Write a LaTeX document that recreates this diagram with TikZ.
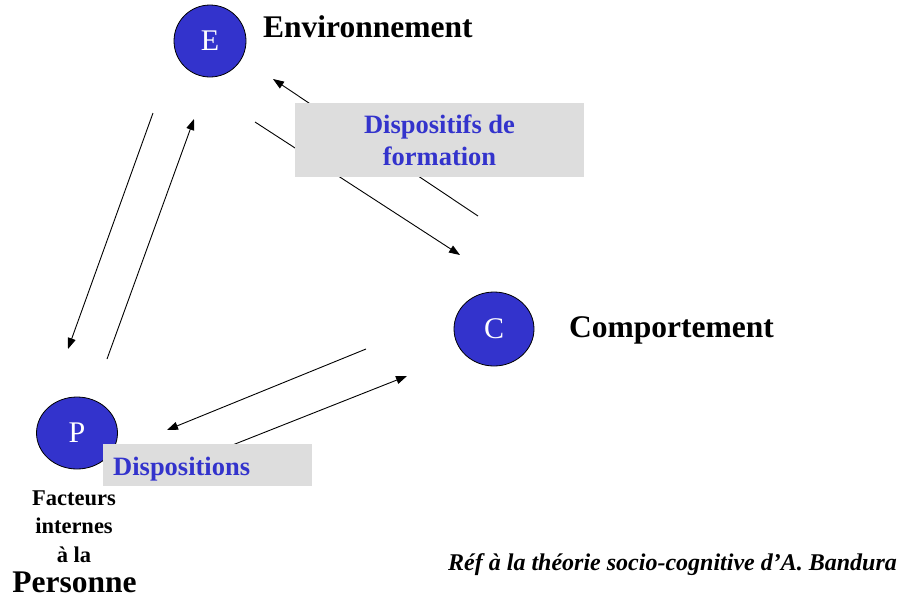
\documentclass[tikz,border=0pt]{standalone}
\usepackage{fontspec}
\setmainfont{Liberation Serif}
\usetikzlibrary{arrows.meta,shapes.geometric}
\definecolor{cblue}{RGB}{51,51,204}
\definecolor{boxgray}{RGB}{221,221,221}
\begin{document}
\begin{tikzpicture}[x=1pt,y=-1pt,
  agent/.style={ellipse, draw=black, line width=0.8pt, fill=cblue, text=white,
    font=\fontsize{30}{30}\selectfont, inner sep=0pt},
  biglabel/.style={anchor=base west, inner sep=0pt, font=\fontsize{31.5}{31.5}\selectfont\bfseries},
  smalllabel/.style={anchor=base, inner sep=0pt, font=\fontsize{22.5}{22.5}\selectfont\bfseries},
  graybox/.style={rectangle, fill=boxgray, draw=none, inner sep=0pt},
  boxtext/.style={text=cblue, inner sep=0pt, font=\fontsize{26.5}{32}\selectfont\bfseries},
  link/.style={line width=0.9pt, -{Triangle[length=11pt,width=8pt]}}
]
\useasboundingbox (0,0) rectangle (901,600);

% circles
\node[agent, minimum width=72pt, minimum height=72pt] (E) at (210,41) {E};
\node[agent, minimum width=80pt, minimum height=74pt] (C) at (494,329) {C};
\node[agent, minimum width=81pt, minimum height=72pt] (P) at (77,433) {P};

% labels
\node[biglabel] (envl) at (263,37) {Environnement};
\node[biglabel] (compl) at (569,337) {Comportement};
\node[smalllabel] (f1) at (74,505) {Facteurs};
\node[smalllabel] (f2) at (74,533) {internes};
\node[smalllabel] (f3) at (74,562) {à la};
\node[anchor=base, inner sep=0pt, font=\fontsize{31.5}{31.5}\selectfont\bfseries] (pers) at (74.5,592) {Personne};
\node[anchor=base west, inner sep=0pt, font=\fontsize{24}{24}\selectfont\bfseries\itshape] (ref) at (448,570)
  {Réf à la théorie socio-cognitive d’A. Bandura};

% arrow end points
\coordinate (a1s) at (153,113); \coordinate (a1e) at (68,349);
\coordinate (a2s) at (107,359); \coordinate (a2e) at (194,119);
\coordinate (a3s) at (478,216); \coordinate (a3e) at (273,79);
\coordinate (a4s) at (255,122); \coordinate (a4e) at (460,255);
\coordinate (a5s) at (366,349); \coordinate (a5e) at (167,430);
\coordinate (a6s) at (230,446); \coordinate (a6e) at (407,376);

\draw[link] (a1s) -- (a1e);
\draw[link] (a2s) -- (a2e);
\draw[link] (a3s) -- (a3e);
\draw[link] (a4s) -- (a4e);
\draw[link] (a5s) -- (a5e);
\draw[link] (a6s) -- (a6e);

% gray boxes
\node[graybox, minimum width=289pt, minimum height=74pt] (fbox) at (439.5,140) {};
\node[boxtext, anchor=base] (ft1) at (439.5,133) {Dispositifs de};
\node[boxtext, anchor=base] (ft2) at (439.5,165) {formation};

\node[graybox, minimum width=209pt, minimum height=42pt] (dbox) at (207.5,465) {};
\node[boxtext, anchor=base west] (dt) at (113,475) {Dispositions};
\end{tikzpicture}
\end{document}
